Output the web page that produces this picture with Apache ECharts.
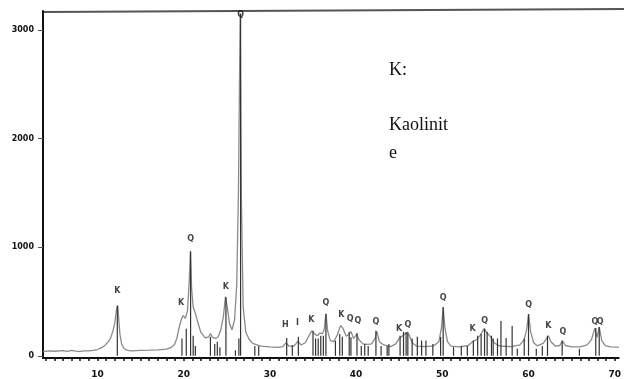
<!DOCTYPE html>
<html><head><meta charset="utf-8">
<script src="https://cdn.jsdelivr.net/npm/echarts@6/dist/echarts.min.js"></script>
<style>html,body{margin:0;padding:0;background:#fff}#c{width:624px;height:379px}</style>
</head><body><div id="c"></div>
<script>
// Diffraction profile: [2theta, counts]
const profile = [
[3.7,40],[4.5,45],[5,42],[6,48],[6.5,40],[7,50],[7.5,44],[8,40],[8.5,46],[9,45],[9.5,50],[10,58],[10.5,75],[10.8,92],[11.2,125],[11.5,160],[11.8,230],[12.0,300],[12.2,420],[12.35,465],[12.45,360],[12.6,200],[12.8,110],[13.1,65],[13.5,50],[14,45],[15,50],[16,52],[17,55],[18,62],[18.5,75],[18.9,100],[19.2,160],[19.5,270],[19.75,340],[19.95,370],[20.2,345],[20.45,420],[20.65,700],[20.78,965],[20.92,620],[21.1,450],[21.4,380],[21.7,290],[22.0,215],[22.5,165],[22.9,175],[23.1,205],[23.35,170],[23.7,160],[24.0,175],[24.3,240],[24.6,360],[24.85,545],[25.05,450],[25.3,300],[25.6,240],[25.9,330],[26.15,650],[26.35,1500],[26.55,3150],[26.7,1400],[26.9,450],[27.2,220],[27.6,150],[28,115],[28.5,100],[29,90],[30,82],[31,78],[31.5,85],[31.85,120],[32.2,90],[32.8,90],[33.25,135],[33.6,100],[34.1,120],[34.5,180],[34.85,230],[35.2,200],[35.5,185],[35.8,210],[36.1,205],[36.3,240],[36.5,390],[36.7,230],[37.0,140],[37.4,130],[37.8,190],[38.2,280],[38.5,250],[38.85,180],[39.2,200],[39.4,225],[39.7,160],[40.1,200],[40.3,150],[40.8,110],[41.3,105],[41.8,110],[42.2,160],[42.4,225],[42.7,130],[43.2,100],[44,85],[44.6,110],[45.0,160],[45.4,185],[45.8,210],[46.1,200],[46.5,120],[47,90],[48,85],[49,92],[49.6,130],[49.9,260],[50.1,445],[50.3,260],[50.6,130],[51,90],[52,82],[53,95],[53.5,130],[54,150],[54.4,190],[54.85,250],[55.2,210],[55.6,175],[56,120],[56.5,95],[57,88],[58,85],[59,100],[59.5,150],[59.8,250],[60.0,385],[60.25,220],[60.6,120],[61,92],[61.7,115],[62.1,160],[62.3,185],[62.6,130],[63.1,90],[63.6,95],[63.95,135],[64.3,95],[65,82],[66,82],[66.8,100],[67.3,150],[67.7,255],[67.95,170],[68.2,265],[68.5,140],[68.9,95],[69.5,82],[70.5,80]
];
// Reference stick lines: [2theta, height]
const sticks = [
[12.3,460],[19.8,160],[20.3,250],[20.8,960],[21.1,185],[21.35,90],[23.1,175],[23.6,110],[23.9,130],[24.2,80],[24.9,540],[26.0,50],[26.4,160],[26.6,3150],[28.25,90],[28.7,90],
[31.95,165],[32.6,100],[33.3,175],[35.0,230],[35.3,160],[35.6,160],[35.9,185],[36.2,185],[36.5,385],[37.6,140],[38.1,200],[38.4,175],[39.2,220],[39.4,170],[40.1,210],[40.6,90],[41.0,110],[41.4,90],[42.3,230],[42.9,90],[43.6,90],
[43.8,110],[45.1,185],[45.5,220],[45.8,220],[46.0,220],[46.5,160],[47.1,175],[47.6,140],[48.1,140],[48.9,110],[49.8,175],[50.1,450],[51.3,80],[52.2,90],[52.9,90],[53.6,140],[54.1,185],[54.5,200],[54.9,250],[55.2,220],[55.7,185],[55.9,160],
[56.4,160],[56.8,320],[57.4,165],[58.1,275],[58.7,65],[59.5,160],[60.0,385],[60.9,65],[61.6,90],[62.2,185],[63.9,140],[65.9,65],[67.8,255],[68.2,265]
];
// Phase labels
const labelNames = ['K','K','Q','K','Q','H','I','K','Q','K','Q','Q','Q','K','Q','Q','K','Q','Q','K','Q','Q','Q'];
const labelX = [12.3,19.7,20.8,24.9,26.6,31.8,33.2,34.8,36.5,38.3,39.3,40.2,42.3,45.0,46.0,50.1,53.5,54.9,60.0,62.3,64.0,67.7,68.3];
const labelY = [596,486,1073,633,3138,284,303,330,486,376,339,321,312,248,284,532,248,321,468,275,220,312,312];
const xTickLabels = [10,20,30,40,50,60,70];
const yTickLabels = [0,1000,2000,3000];
const xMinorTicks = [];
for (let v = 4; v <= 70; v++) xMinorTicks.push(v);

const chart = echarts.init(document.getElementById('c'), null, {renderer:'canvas'});
chart.setOption({
  animation:false,
  backgroundColor:'#fff',
  grid:{left:43,right:0,top:11,bottom:20,containLabel:false},
  xAxis:{type:'value',min:3.68,max:70.46,
    axisLine:{show:true,onZero:false,lineStyle:{color:'#111',width:2}},
    axisTick:{show:true,customValues:xMinorTicks,length:3,lineStyle:{color:'#111',width:1.5}},
    axisLabel:{customValues:xTickLabels,margin:12,color:'#111',fontSize:9,fontWeight:'bold',fontFamily:'DejaVu Sans'},
    splitLine:{show:false}},
  yAxis:{type:'value',min:-20,max:3174,
    axisLine:{show:true,lineStyle:{color:'#111',width:2}},
    axisTick:{show:true,customValues:yTickLabels,length:5,lineStyle:{color:'#555',width:1}},
    axisLabel:{customValues:yTickLabels,formatter:function(v){return String(v);},margin:9,color:'#111',fontSize:8,fontWeight:'bold',fontFamily:'DejaVu Sans'},
    splitLine:{show:false}},
  graphic:[
    {type:'line',shape:{x1:43,y1:12,x2:624,y2:9},style:{stroke:'#555',lineWidth:2}},
    {type:'text',left:389,top:57,style:{text:'K:\n\nKaolinit\ne',fontFamily:'Liberation Serif',fontSize:18,lineHeight:27.5,fill:'#111'}}
  ],
  series:[
    {type:'custom',data:sticks,clip:true,z:3,
      renderItem:function(params,api){
        const p0=api.coord([api.value(0),0]);
        const p1=api.coord([api.value(0),api.value(1)]);
        return {type:'line',shape:{x1:p0[0],y1:p0[1],x2:p1[0],y2:p1[1]},style:{stroke:'#333',lineWidth:1.2}};
      }},
    {type:'line',data:profile,showSymbol:false,smooth:false,z:2,lineStyle:{color:'#8a8a8a',width:1.3}},
    {type:'scatter',symbolSize:0,z:4,
      data:labelX.map((x,i)=>({value:[x,labelY[i]],name:labelNames[i]})),
      label:{show:true,position:'inside',formatter:'{b}',color:'#111',fontSize:8,fontWeight:'bold',fontFamily:'DejaVu Sans'}}
  ]
});
</script></body></html>
